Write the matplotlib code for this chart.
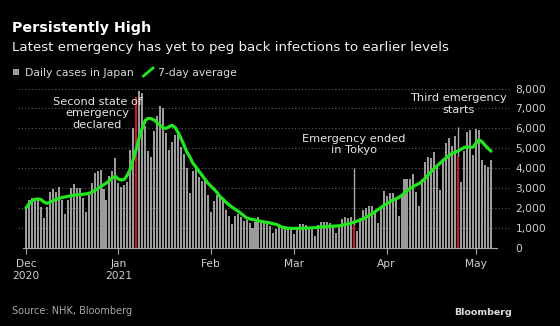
import matplotlib
matplotlib.use("Agg")
import matplotlib.pyplot as plt
import matplotlib.dates as mdates
from matplotlib.patches import Rectangle
from matplotlib.lines import Line2D
import pandas as pd

# Daily new cases in Japan (NHK), Dec 1 2020 - May 6 2021
cases_dec = [2029, 2417, 2515, 2442, 2508, 2024, 1503, 2029, 2810, 2973, 2789, 3041, 2384, 1680,
             2390, 3016, 3211, 2995, 2992, 2494, 1809, 2664, 3271, 3740, 3832, 3881, 2948, 2395,
             3604, 3852, 4520]
cases_jan = [3256, 3060, 3158, 3325, 4915, 6004, 7570, 7882, 7790, 6094, 4876, 4536, 5875, 6605,
             7133, 7014, 5759, 4925, 5320, 5654, 5702, 5043, 4714, 3990, 2764, 3853, 3964, 3538,
             3332, 3341, 2673]
cases_feb = [1792, 2324, 2631, 2576, 2371, 1893, 1608, 1215, 1569, 1710, 1548, 1359, 1368, 1227,
             1000, 1308, 1527, 1230, 1235, 1176, 1072, 739, 940, 1076, 1074, 1080, 995, 990]
cases_mar = [682, 994, 1171, 1180, 1150, 1059, 1050, 600, 1127, 1314, 1290, 1299, 1251, 1066,
             755, 1089, 1464, 1531, 1469, 1538, 1118, 816, 1517, 1917, 2000, 2084, 2081, 1785,
             1253, 2088, 2843]
cases_apr = [2613, 2761, 2768, 2466, 1571, 2650, 3451, 3451, 3452, 3697, 2779, 2092, 3455, 4312,
             4570, 4532, 4792, 4091, 2921, 4341, 5285, 5509, 5113, 5606, 4606, 3314, 4883, 5791,
             5900, 4680]
cases_may = [5989, 5898, 4410, 4138, 4071, 4428]

# 7-day average, same days
avg_dec = [2000, 2200, 2350, 2430, 2450, 2420, 2300, 2230, 2280, 2350, 2420, 2470, 2520, 2550,
           2580, 2610, 2630, 2650, 2670, 2680, 2700, 2730, 2780, 2870, 2960, 3060, 3160, 3250,
           3380, 3520, 3580]
avg_jan = [3450, 3400, 3440, 3650, 3950, 4450, 4950, 5550, 6000, 6400, 6500, 6480, 6420, 6280,
           6150, 6020, 6000, 6080, 6150, 6050, 5800, 5500, 5150, 4800, 4550, 4250, 4050, 3850,
           3650, 3450, 3250]
avg_feb = [3100, 2950, 2800, 2580, 2450, 2300, 2170, 2050, 1950, 1850, 1740, 1620, 1500, 1450,
           1420, 1390, 1350, 1320, 1290, 1270, 1240, 1200, 1170, 1100, 1030, 990, 975, 970]
avg_mar = [970, 970, 975, 980, 990, 995, 1000, 1005, 1020, 1040, 1060, 1070, 1075, 1080,
           1090, 1100, 1120, 1170, 1190, 1230, 1280, 1330, 1380, 1440, 1520, 1610, 1700, 1800,
           1910, 2000, 2120]
avg_apr = [2200, 2300, 2380, 2450, 2520, 2620, 2750, 2880, 2990, 3080, 3160, 3230, 3350, 3500,
           3660, 3830, 3990, 4120, 4260, 4400, 4520, 4640, 4740, 4800, 4860, 4950, 5030, 5070,
           5050, 5050]
avg_may = [5250, 5420, 5330, 5150, 5000, 4850]

daily = cases_dec + cases_jan + cases_feb + cases_mar + cases_apr + cases_may
avg7 = avg_dec + avg_jan + avg_feb + avg_mar + avg_apr + avg_may
dates = pd.date_range("2020-12-01", periods=len(daily), freq="D")

# emergency-related days shown in red
events = ["2021-01-07", "2021-03-21", "2021-04-25"]
month_ticks = ["2020-12-01", "2021-01-01", "2021-02-01", "2021-03-01", "2021-04-01", "2021-05-01"]
month_labels = ["Dec\n2020", "Jan\n2021", "Feb", "Mar", "Apr", "May"]
y_ticks = [0, 1000, 2000, 3000, 4000, 5000, 6000, 7000, 8000]

BG = "black"
BAR = "#9b9b9b"
RED = "#d0142e"
GREEN = "#22e61e"
TXT = "#e6e6e6"

fig = plt.figure(figsize=(5.6, 3.26), dpi=100, facecolor=BG)
ax = fig.add_axes([0.0321, 0.2402, 0.8786, 0.4883], facecolor=BG)

event_dates = pd.to_datetime(events)
colors = [RED if d in event_dates else BAR for d in dates]
ax.bar(dates, daily, width=0.68, color=colors, linewidth=0, zorder=2)
ax.plot(dates, avg7, color=GREEN, lw=2.3, solid_capstyle="round", zorder=4)

# leader lines from the highlighted bars up to their labels
vals = dict(zip(dates, daily))
ax.vlines(pd.Timestamp("2021-03-21"), vals[pd.Timestamp("2021-03-21")], 4000,
          color="#a8a8a8", lw=1, zorder=3)
ax.vlines(pd.Timestamp("2021-04-25"), vals[pd.Timestamp("2021-04-25")], 6050,
          color="#a8a8a8", lw=1, zorder=3)

ann_kw = dict(color=TXT, fontsize=8.2, ha="center", va="center", linespacing=1.2, zorder=5)
ax.text(pd.Timestamp("2020-12-25"), 6760, "Second state of\nemergency\ndeclared", **ann_kw)
ax.text(pd.Timestamp("2021-03-21"), 5180, "Emergency ended\nin Tokyo", **ann_kw)
ax.text(pd.Timestamp("2021-04-25"), 7220, "Third emergency\nstarts", **ann_kw)

start = pd.Timestamp("2020-12-01")
ax.set_ylim(0, 8000)
ax.set_xlim(start - pd.Timedelta(days=2.7), start + pd.Timedelta(days=162.4))

ax.yaxis.tick_right()
ax.set_yticks(y_ticks)
ax.set_yticklabels([f"{v:,}" for v in y_ticks])
ax.tick_params(axis="y", length=0, pad=4, labelsize=7.7, labelcolor="#d0d0d0")
# dotted grid sits over the bars, so it shows darker across them
ax.yaxis.grid(True, color="#5c5c5c", linestyle=(0, (1, 2)), lw=0.8, zorder=2.5)

ax.set_xticks(pd.to_datetime(month_ticks))
ax.set_xticklabels(month_labels)
ax.tick_params(axis="x", length=4, width=0.8, color="#aaaaaa", pad=4,
               labelsize=7.7, labelcolor="#d0d0d0")
for lbl in ax.get_xticklabels():
    lbl.set_linespacing(1.3)

for side in ["top", "left", "right"]:
    ax.spines[side].set_visible(False)
ax.spines["bottom"].set_color("#aaaaaa")
ax.spines["bottom"].set_linewidth(0.8)
ax.spines["bottom"].set_bounds(mdates.date2num(start - pd.Timedelta(days=1)),
                               mdates.date2num(start + pd.Timedelta(days=158)))

# headline and legend
fig.text(12 / 560, 1 - 32 / 326, "Persistently High", color="white", fontsize=10.3,
         fontweight="bold", va="baseline")
fig.text(12 / 560, 1 - 50.7 / 326,
         "Latest emergency has yet to peg back infections to earlier levels",
         color="#f0f0f0", fontsize=9.6, va="baseline")
fig.patches.append(Rectangle((13.3 / 560, 1 - 75.3 / 326), 6 / 560, 6 / 326,
                             transform=fig.transFigure, color=BAR, lw=0))
fig.text(25 / 560, 1 - 76 / 326, "Daily cases in Japan", color="#d8d8d8", fontsize=7.8,
         va="baseline")
fig.lines.append(Line2D([143.5 / 560, 153 / 560], [1 - 76 / 326, 1 - 68 / 326],
                        transform=fig.transFigure, color=GREEN, lw=2))
fig.text(158 / 560, 1 - 76 / 326, "7-day average", color="#d8d8d8", fontsize=7.8,
         va="baseline")

fig.text(12 / 560, 1 - 314.3 / 326, "Source: NHK, Bloomberg", color="#a8a8a8", fontsize=7,
         va="baseline")
fig.text(512 / 560, 1 - 315 / 326, "Bloomberg", color="#dddddd", fontsize=6.8,
         fontweight="bold", ha="right", va="baseline")

fig.savefig("out.png", dpi=100, facecolor=BG)
